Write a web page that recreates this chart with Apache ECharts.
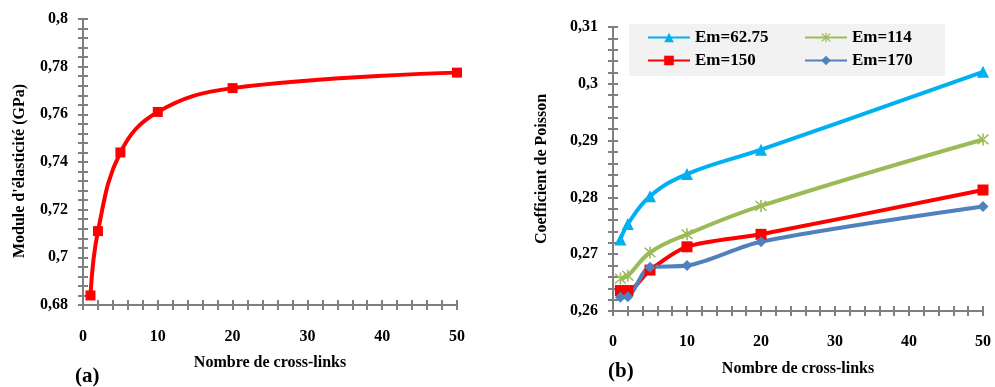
<!DOCTYPE html>
<html>
<head>
<meta charset="utf-8">
<script src="https://cdn.jsdelivr.net/npm/echarts@6/dist/echarts.min.js"></script>
<style>
html,body{margin:0;padding:0;background:#fff;}
#c{width:995px;height:387px;}
</style>
</head>
<body>
<div id="c"></div>
<script>
// ---- Data ----
const crossLinks = [1, 2, 5, 10, 20, 50];
const moduleValues = [0.684, 0.711, 0.744, 0.761, 0.771, 0.7775];

const seriesNames = ['Em=62.75', 'Em=114', 'Em=150', 'Em=170'];
const poissonEm62 = [0.2726, 0.2753, 0.2802, 0.2841, 0.2884, 0.3021];
const poissonEm114 = [0.2657, 0.2662, 0.2703, 0.2735, 0.2785, 0.2902];
const poissonEm150 = [0.2636, 0.2636, 0.2672, 0.2713, 0.2735, 0.2813];
const poissonEm170 = [0.2624, 0.2625, 0.2677, 0.2680, 0.2722, 0.2784];

const xTickLabels = ['0', '10', '20', '30', '40', '50'];
const leftYTickLabels = ['0,68', '0,7', '0,72', '0,74', '0,76', '0,78', '0,8'];
const rightYTickLabels = ['0,26', '0,27', '0,28', '0,29', '0,3', '0,31'];

function pairs(xs, ys) { return xs.map((x, i) => [x, ys[i]]); }

const FONT = '"Liberation Serif", "DejaVu Serif", serif';
const AX = '#7f7f7f';
const labelStyle = { color: '#000', fontFamily: FONT, fontWeight: 'bold', fontSize: 16 };

function tickCfg(inside) {
  return {
    axisTick: { show: true, inside, length: 5, lineStyle: { color: AX, width: 2 } },
    minorTick: { show: true, splitNumber: 5, length: 5, lineStyle: { color: AX, width: 2 } }
  };
}
function mainXAxis(gridIndex, margin) {
  return Object.assign({
    type: 'value', gridIndex, min: 0, max: 50, interval: 10, position: 'bottom',
    axisLine: { show: true, onZero: false, lineStyle: { color: AX, width: 2 } },
    splitLine: { show: false },
    axisLabel: Object.assign({ margin, formatter: (v, i) => xTickLabels[i] }, labelStyle),
    name: 'Nombre de cross-links', nameLocation: 'middle', nameGap: 50,
    nameTextStyle: Object.assign({}, labelStyle, { fontSize: 16, letterSpacing: -0.5 })
  }, tickCfg(false));
}
function dupXAxis(gridIndex) {
  return Object.assign({
    type: 'value', gridIndex, min: 0, max: 50, interval: 10, position: 'bottom',
    axisLine: { show: false, onZero: false },
    splitLine: { show: false }, axisLabel: { show: false }
  }, tickCfg(true));
}
function mainYAxis(gridIndex, min, max, interval, labels, name, gap, pad) {
  return Object.assign({
    type: 'value', gridIndex, min, max, interval, position: 'left',
    axisLine: { show: true, onZero: false, lineStyle: { color: AX, width: 2 } },
    splitLine: { show: false },
    axisLabel: Object.assign({ margin: 15, formatter: (v, i) => labels[i] }, labelStyle),
    name, nameLocation: 'middle', nameGap: gap,
    nameTextStyle: Object.assign({}, labelStyle, { fontSize: 16, padding: pad })
  }, tickCfg(false));
}
function dupYAxis(gridIndex, min, max, interval) {
  return Object.assign({
    type: 'value', gridIndex, min, max, interval, position: 'left',
    axisLine: { show: false, onZero: false },
    splitLine: { show: false }, axisLabel: { show: false }
  }, tickCfg(true));
}

const asterisk = 'path://M4.4,0h1.2v10h-1.2z M0.6,1.4l0.85,-0.85l8,8l-0.85,0.85z M9.4,1.4l-0.85,-0.85l-8,8l0.85,0.85z';

const rightSeriesDefs = [
  { name: seriesNames[0], data: poissonEm62, color: '#00B0F0', symbol: 'triangle', size: 12, smooth: 0.4 },
  { name: seriesNames[1], data: poissonEm114, color: '#9BBB59', symbol: asterisk, size: 12, smooth: 0.4 },
  { name: seriesNames[2], data: poissonEm150, color: '#FF0000', symbol: 'rect', size: 11, smooth: 0.3 },
  { name: seriesNames[3], data: poissonEm170, color: '#4F81BD', symbol: 'diamond', size: 11, smooth: 0.3 }
];

// legend item slots (2 x 2)
const legendSlots = [[647, 29], [804, 29], [647, 52], [804, 52]];

const chart = echarts.init(document.getElementById('c'), null, { renderer: 'canvas' });

const LEFT_GRID = { left: 83, right: 538, top: 19, bottom: 82 };
const RIGHT_GRID = { left: 613, right: 12, top: 27, bottom: 76 };

const option = {
  animation: false,
  grid: [LEFT_GRID, RIGHT_GRID, Object.assign({}, LEFT_GRID), Object.assign({}, RIGHT_GRID)],
  xAxis: [mainXAxis(0, 24), mainXAxis(1, 23), dupXAxis(2), dupXAxis(3)],
  yAxis: [
    mainYAxis(0, 0.68, 0.8, 0.02, leftYTickLabels, "Module d'élasticité (GPa)", 55, [0, 18, 0, 0]),
    mainYAxis(1, 0.26, 0.31, 0.01, rightYTickLabels, 'Coefficient de Poisson', 63, [0, 0, 0, 0]),
    dupYAxis(2, 0.68, 0.8, 0.02),
    dupYAxis(3, 0.26, 0.31, 0.01)
  ],
  legend: seriesNames.map((n, k) => ({
    data: [n],
    left: legendSlots[k][0], top: legendSlots[k][1],
    itemWidth: 42, itemHeight: 12, padding: 0,
    textStyle: { color: '#000', fontFamily: FONT, fontWeight: 'bold', fontSize: 17 }
  })),
  graphic: [
    { type: 'rect', left: 629, top: 24, z: -1, shape: { width: 316, height: 52 }, style: { fill: '#F2F2F2' } },
    { type: 'text', left: 75, top: 366, style: { text: '(a)', font: 'bold 21px ' + FONT, fill: '#000' } },
    { type: 'text', left: 608, top: 361, style: { text: '(b)', font: 'bold 21px ' + FONT, fill: '#000' } }
  ],
  series: [
    {
      name: 'Module', type: 'line', xAxisIndex: 0, yAxisIndex: 0,
      data: pairs(crossLinks, moduleValues), smooth: 0.4,
      symbol: 'rect', symbolSize: 10,
      lineStyle: { color: '#FF0000', width: 4 },
      itemStyle: { color: '#FF0000' }
    }
  ].concat(rightSeriesDefs.map(d => ({
    name: d.name, type: 'line', xAxisIndex: 1, yAxisIndex: 1,
    data: pairs(crossLinks, d.data), smooth: d.smooth,
    symbol: d.symbol, symbolSize: d.size,
    lineStyle: { color: d.color, width: 4 },
    itemStyle: { color: d.color }
  })))
};
chart.setOption(option);
</script>
</body>
</html>
